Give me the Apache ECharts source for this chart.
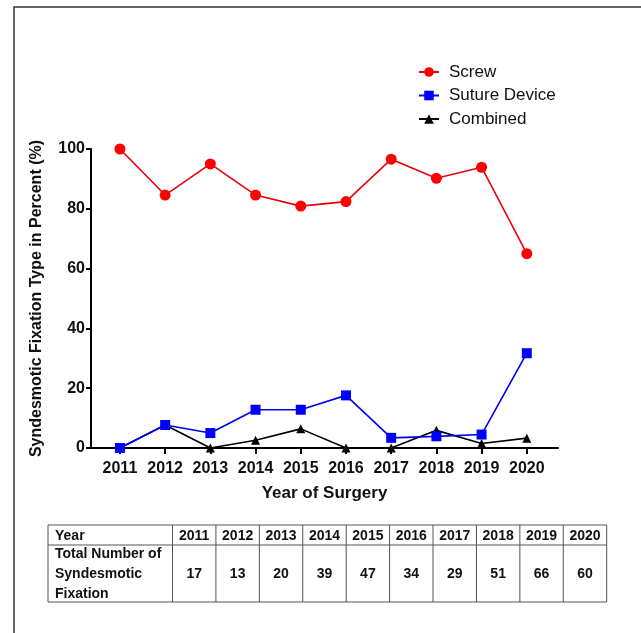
<!DOCTYPE html>
<html>
<head>
<meta charset="utf-8">
<script src="https://cdn.jsdelivr.net/npm/echarts@6/dist/echarts.min.js"></script>
<style>
  html, body { margin: 0; padding: 0; background: #fff; }
  #chart { width: 641px; height: 633px; }
</style>
</head>
<body>
<div id="chart"></div>
<script>
// Syndesmotic fixation type by year of surgery (percent of all fixations)
const years = [2011, 2012, 2013, 2014, 2015, 2016, 2017, 2018, 2019, 2020];
const screw = [100, 84.6, 95.0, 84.6, 80.9, 82.4, 96.6, 90.2, 93.9, 65.0];
const sutureDevice = [0, 7.7, 5.0, 12.8, 12.8, 17.6, 3.4, 3.9, 4.5, 31.7];
const combined = [0, 7.7, 0, 2.6, 6.4, 0, 0, 5.9, 1.5, 3.3];
const totals = [17, 13, 20, 39, 47, 34, 29, 51, 66, 60];
const yTicks = [0, 20, 40, 60, 80, 100];

const FONT = '"Liberation Sans", Arial, sans-serif';
const INK = '#111';

const pairs = arr => arr.map((v, i) => [years[i], v]);

// Summary table under the plot
const table = { left: 48, top: 525, firstCol: 124.5, colW: 43.42, headH: 20, bodyH: 57 };
function buildTable() {
  const els = [];
  const totalW = table.firstCol + table.colW * years.length;
  const bottom = table.top + table.headH + table.bodyH;
  const line = (x1, y1, x2, y2) => ({
    type: 'line', shape: { x1, y1, x2, y2 },
    style: { stroke: '#555', lineWidth: 1 }, silent: true
  });
  els.push(line(table.left, table.top, table.left + totalW, table.top));
  els.push(line(table.left, table.top + table.headH, table.left + totalW, table.top + table.headH));
  els.push(line(table.left, bottom, table.left + totalW, bottom));
  els.push(line(table.left, table.top, table.left, bottom));
  for (let i = 0; i <= years.length; i++) {
    const x = table.left + table.firstCol + i * table.colW;
    els.push(line(x, table.top, x, bottom));
  }
  const txt = (text, x, y, align) => ({
    type: 'text', x, y, silent: true,
    style: { text, fill: INK, font: 'bold 14px ' + FONT, align, verticalAlign: 'middle', lineHeight: 20 }
  });
  els.push(txt('Year', table.left + 7, table.top + table.headH / 2 + 1, 'left'));
  els.push(txt('Total Number of\nSyndesmotic\nFixation', table.left + 7, table.top + table.headH + table.bodyH / 2 + 1, 'left'));
  years.forEach((yr, i) => {
    const cx = table.left + table.firstCol + (i + 0.5) * table.colW;
    els.push(txt(String(yr), cx, table.top + table.headH / 2 + 1, 'center'));
    els.push(txt(String(totals[i]), cx, table.top + table.headH + table.bodyH / 2 + 1, 'center'));
  });
  return els;
}

const chart = echarts.init(document.getElementById('chart'));
chart.setOption({
  animation: false,
  backgroundColor: '#fff',
  textStyle: { fontFamily: FONT },
  grid: { left: 91, right: 83, top: 149, bottom: 185, containLabel: false },
  legend: {
    orient: 'vertical',
    left: 418, top: 63.5,
    padding: 0,
    itemWidth: 20, itemHeight: 12, itemGap: 6.5,
    textStyle: { fontSize: 17, color: INK, fontFamily: FONT, padding: [0, 0, 0, 5] },
    data: ['Screw', 'Suture Device', 'Combined']
  },
  xAxis: {
    type: 'value',
    min: 2010.36, max: 2020.69,
    name: 'Year of Surgery',
    nameLocation: 'middle',
    nameGap: 37,
    nameTextStyle: { fontSize: 17, fontWeight: 'bold', color: INK, fontFamily: FONT },
    splitLine: { show: false },
    axisLine: { lineStyle: { color: '#000', width: 2 } },
    axisTick: { show: true, length: 6, lineStyle: { color: '#000', width: 2 }, customValues: years },
    axisLabel: {
      customValues: years, margin: 13,
      fontSize: 16, fontWeight: 'bold', color: INK, fontFamily: FONT,
      formatter: v => String(Math.round(v))
    }
  },
  yAxis: {
    type: 'value',
    min: 0, max: 100, interval: 20,
    name: 'Syndesmotic Fixation Type in Percent (%)',
    nameLocation: 'middle',
    nameRotate: 90,
    nameGap: 46,
    nameTextStyle: { fontSize: 16, fontWeight: 'bold', color: INK, fontFamily: FONT },
    splitLine: { show: false },
    axisLine: { show: true, lineStyle: { color: '#000', width: 2 } },
    axisTick: { show: true, length: 5, lineStyle: { color: '#000', width: 2 }, customValues: yTicks },
    axisLabel: { customValues: yTicks, margin: 6, fontSize: 16, fontWeight: 'bold', color: INK, fontFamily: FONT }
  },
  series: [
    {
      name: 'Screw', type: 'line', data: pairs(screw),
      symbol: 'circle', symbolSize: 11, z: 3,
      lineStyle: { color: '#e8000b', width: 1.6 },
      itemStyle: { color: '#ff0000' }
    },
    {
      name: 'Suture Device', type: 'line', data: pairs(sutureDevice),
      symbol: 'rect', symbolSize: 10, z: 4,
      lineStyle: { color: '#0000ee', width: 1.6 },
      itemStyle: { color: '#0000ff' }
    },
    {
      name: 'Combined', type: 'line', data: pairs(combined),
      symbol: 'triangle', symbolSize: 9, z: 2,
      lineStyle: { color: '#000', width: 1.6 },
      itemStyle: { color: '#000' }
    }
  ],
  graphic: [
    // frame along the top and left edges
    { type: 'polyline', silent: true, shape: { points: [[14, 633], [14, 7], [641, 7]] },
      style: { stroke: '#333', lineWidth: 1.5, fill: null } },
    { type: 'group', children: buildTable() }
  ]
});
</script>
</body>
</html>
